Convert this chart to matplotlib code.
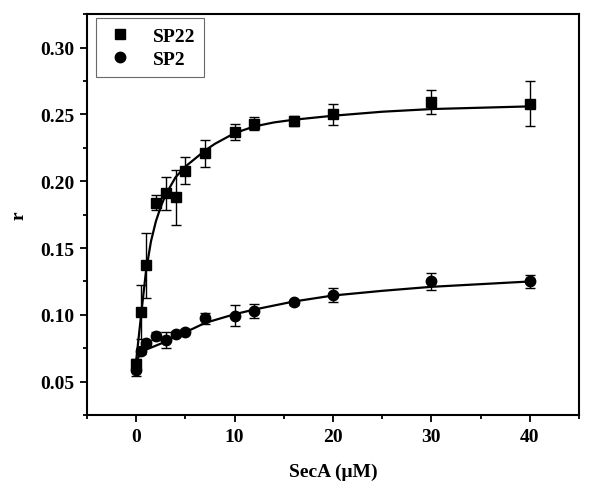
import numpy as np
import matplotlib.pyplot as plt
from matplotlib.ticker import MultipleLocator

# --- data ---
secA = [0, 0.5, 1, 2, 3, 4, 5, 7, 10, 12, 16, 20, 30, 40]

sp22 = [0.063, 0.102, 0.137, 0.184, 0.191, 0.188, 0.208, 0.221, 0.237, 0.243, 0.245, 0.250, 0.259, 0.258]
sp22_err = [0.004, 0.020, 0.024, 0.0055, 0.0125, 0.0205, 0.010, 0.010, 0.006, 0.005, 0.004, 0.008, 0.009, 0.017]

sp2 = [0.059, 0.073, 0.079, 0.084, 0.081, 0.086, 0.0875, 0.0975, 0.0995, 0.103, 0.1095, 0.115, 0.125, 0.125]
sp2_err = [0.005, 0.002, 0.002, 0.003, 0.006, 0.002, 0.002, 0.004, 0.008, 0.0055, 0.002, 0.005, 0.0065, 0.005]

# fitted curves
fit22_x = [0, 0.5, 1, 1.5, 2, 2.5, 3, 4, 5, 6, 7, 8, 10, 12, 14, 16, 20, 25, 30, 35, 40]
fit22_y = [0.066, 0.100, 0.133, 0.155, 0.170, 0.181, 0.190, 0.203, 0.211, 0.217, 0.223, 0.228,
           0.236, 0.241, 0.244, 0.246, 0.249, 0.252, 0.254, 0.255, 0.256]
fit2_x = [0, 0.5, 1, 2, 3, 4, 5, 7, 10, 12, 16, 20, 25, 30, 35, 40]
fit2_y = [0.066, 0.071, 0.074, 0.077, 0.080, 0.084, 0.087, 0.094, 0.1005, 0.104, 0.110,
          0.1145, 0.118, 0.121, 0.123, 0.125]

plt.rcParams['font.family'] = ['Liberation Serif', 'DejaVu Serif']
plt.rcParams['font.weight'] = 'bold'

fig = plt.figure(figsize=(6, 4.89), dpi=100)
ax = fig.add_axes([0.145, 0.149, 0.820, 0.820])

ax.plot(fit22_x, fit22_y, color='black', lw=1.6, zorder=2)
ax.plot(fit2_x, fit2_y, color='black', lw=1.6, zorder=2)

e22 = ax.errorbar(secA, sp22, yerr=sp22_err, fmt='s', color='black', ms=7,
                  capsize=3.5, elinewidth=1, capthick=1, zorder=3)
e2 = ax.errorbar(secA, sp2, yerr=sp2_err, fmt='o', color='black', ms=7.5,
                 capsize=3.5, elinewidth=1, capthick=1, zorder=3)

ax.set_xlim(-5, 45)
ax.set_ylim(0.025, 0.325)
ax.xaxis.set_major_locator(MultipleLocator(10))
ax.xaxis.set_minor_locator(MultipleLocator(5))
ax.yaxis.set_major_locator(MultipleLocator(0.05))
ax.yaxis.set_minor_locator(MultipleLocator(0.025))
ax.yaxis.set_major_formatter(plt.FormatStrFormatter('%.2f'))

ax.tick_params(which='major', direction='out', length=5, width=1.3, labelsize=14, pad=4)
ax.tick_params(which='minor', direction='out', length=3, width=1.3)
ax.tick_params(top=False, right=False)
for s in ax.spines.values():
    s.set_linewidth(1.5)

ax.set_xlabel('SecA (μM)', fontsize=14, fontweight='bold', labelpad=13)
ax.set_ylabel('r', fontsize=14, fontweight='bold', labelpad=9)

leg = ax.legend([e22[0], e2[0]], ['SP22', 'SP2'], loc='upper left',
                bbox_to_anchor=(0.018, 0.99), borderaxespad=0, fontsize=14,
                frameon=True, fancybox=False, handletextpad=0.9, borderpad=0.45,
                labelspacing=0.3, handlelength=1.6)
leg.get_frame().set_edgecolor('#444444')
leg.get_frame().set_linewidth(0.8)
for t in leg.get_texts():
    t.set_fontweight('bold')

fig.savefig('out.png', dpi=100)
